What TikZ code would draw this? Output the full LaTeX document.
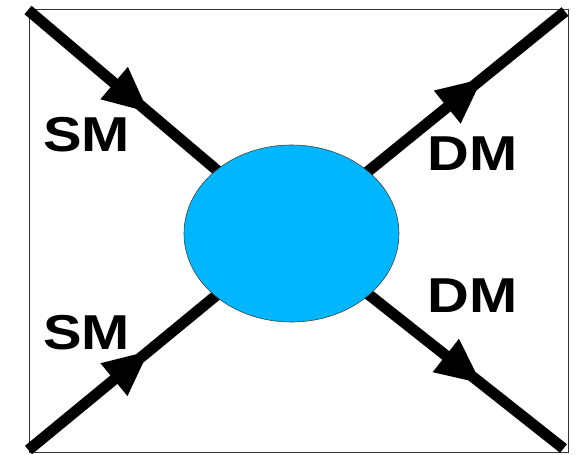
\documentclass[tikz,border=0pt]{standalone}
\usepackage{fontspec}
\setmainfont{Liberation Sans}
\usetikzlibrary{arrows.meta,decorations.markings,shapes.geometric}
\definecolor{blobfill}{RGB}{0,183,255}
\begin{document}
\begin{tikzpicture}[x=1pt,y=-1pt,
  leg/.style={line width=11pt,line cap=butt},
  inarrow/.style={postaction={decorate},decoration={markings,
      mark=at position 0.46 with {\arrow{Triangle[length=46pt,width=39pt]}}}},
  outarrow/.style={postaction={decorate},decoration={markings,
      mark=at position 0.70 with {\arrow{Triangle[length=46pt,width=39pt]}}}},
  blob/.style={ellipse,draw=black!75,line width=0.6pt,fill=blobfill,
      minimum width=215pt,minimum height=177pt,inner sep=0pt},
  lbl/.style={font=\bfseries\fontsize{49}{49}\selectfont,xscale=1.18,inner sep=0pt}]
  \useasboundingbox (0,0) rectangle (579,455);
  % frame
  \draw[black!80,line width=0.8pt] (29,9.5) rectangle (568,452);
  % external legs
  \coordinate (c)  at (291.5,233.5);
  \coordinate (tl) at (28,10);
  \coordinate (bl) at (28.5,450);
  \coordinate (tr) at (565,11.5);
  \coordinate (br) at (563.5,448.5);
  \draw[leg,inarrow]  (tl) -- (c);
  \draw[leg,inarrow]  (bl) -- (c);
  \draw[leg,outarrow] (c) -- (tr);
  \draw[leg,outarrow] (c) -- (br);
  % interaction blob
  \node[blob] (vertex) at (c) {};
  % labels
  \node[lbl] (sm1) at (86.5,135)   {SM};
  \node[lbl] (sm2) at (86.5,332.5) {SM};
  \node[lbl] (dm1) at (472.5,154)  {DM};
  \node[lbl] (dm2) at (472.5,296)  {DM};
\end{tikzpicture}
\end{document}
